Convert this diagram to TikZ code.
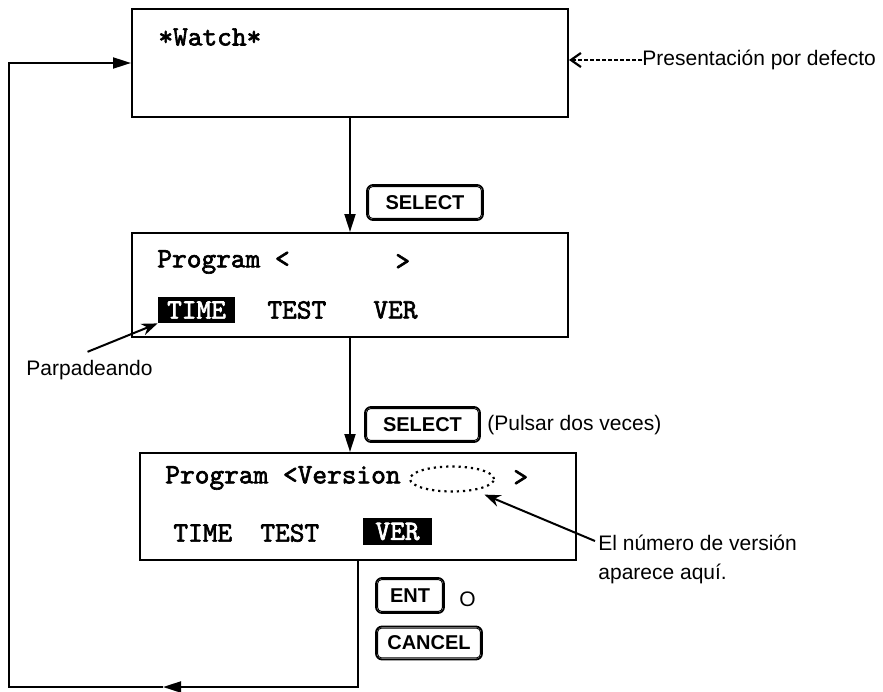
\documentclass[tikz,border=0pt]{standalone}
\usepackage{fontspec}
\setmainfont{Liberation Sans}
\newfontfamily\lcdfont{lmmono10-regular.otf}[FakeBold=2.2]
\usetikzlibrary{arrows.meta,shapes.geometric}
\begin{document}
\begin{tikzpicture}[x=0.5pt,y=-0.5pt,
  screen/.style={draw, line width=1pt, minimum width=218pt, inner sep=0pt},
  lcd/.style={font=\lcdfont\fontsize{14}{16}\selectfont, inner sep=0pt, anchor=west},
  hilite/.style={lcd, anchor=center, fill=black, text=white},
  keybox/.style={draw, line width=0.9pt, rounded corners=3pt, inner sep=0pt,
    font=\bfseries\fontsize{10}{11}\selectfont},
  keyinner/.style={draw, line width=0.45pt, rounded corners=2pt},
  lbl/.style={font=\fontsize{10.5}{14.5}\selectfont, inner sep=0pt},
  flow/.style={line width=1pt, -{Triangle[length=9pt,width=5.5pt]}},
  note/.style={line width=1pt, -{Stealth[length=8pt,width=6pt]}},
  dotnote/.style={line width=1.1pt, dash pattern=on 1.8pt off 1.2pt, -{Straight Barb[length=5pt,width=7pt]}}]

\useasboundingbox (0,0) rectangle (883,691);

% display screens
\node[screen, minimum height=54pt] (box1) at (350,63) {};
\node[screen, minimum height=52pt] (box2) at (350,285) {};
\node[screen, minimum height=53.5pt] (box3) at (358,506.5) {};

% screen 1
\node[lcd] (watch) at (158,37) {*Watch*};

% screen 2
\node[lcd] (prog2) at (157,262) {Program <};
\node[lcd] (close2) at (395,262) {>};
\node[hilite, minimum width=38.5pt, minimum height=13pt] (time2) at (196.5,310) {TIME};
\node[lcd] (test2) at (267,310) {TEST};
\node[lcd] (ver2) at (373,310) {VER};

% screen 3
\node[lcd] (prog3) at (165,478) {Program <Version};
\node[draw, dotted, line width=1.1pt, ellipse, minimum width=42pt, minimum height=12.5pt, inner sep=0pt] (slot) at (452,479) {};
\node[lcd] (close3) at (513,478) {>};
\node[lcd] (time3) at (173,533) {TIME};
\node[lcd] (test3) at (260,533) {TEST};
\node[hilite, minimum width=34.5pt, minimum height=13.5pt] (ver3) at (397.5,531.5) {VER};

% keys
\node[keybox, minimum width=58pt, minimum height=17.5pt] (sel1) at (425,202.5) {SELECT};
\node[keybox, minimum width=57.5pt, minimum height=17.5pt] (sel2) at (422.5,424.5) {SELECT};
\node[keybox, minimum width=34pt, minimum height=17.5pt] (ent) at (410,595.5) {ENT};
\node[keybox, minimum width=53pt, minimum height=16.5pt] (cancel) at (429,643) {CANCEL};
\foreach \k in {sel1,sel2,ent,cancel}
  \draw[keyinner] ([shift={(2.5,2.5)}]\k.north west) rectangle ([shift={(-2.5,-2.5)}]\k.south east);

% labels
\node[lbl, anchor=west] (pres) at (642,60) {Presentación por defecto};
\node[lbl, anchor=east] (blink) at (153,370) {Parpadeando};
\node[lbl, anchor=west] (twice) at (487,425) {(Pulsar dos veces)};
\node[lbl, anchor=west] (orkey) at (459,599) {O};
\node[lbl, anchor=north west, align=left] (vernote) at (598,535) {El número de versión\\aparece aquí.};

% flow between screens
\draw[flow] (box1.south) -- (box2.north);
\draw[flow] (box2.south) -- (box2.south |- box3.north);

% return path to the default screen
\coordinate (midpt) at (163,687);
\coordinate (loopsw) at (9,687);
\draw[flow] (box3.south) |- (midpt);
\draw[flow] (midpt) -- (loopsw) |- (box1.west);

% pointers
\draw[dotnote] (pres.west) -- (pres.west -| box1.east);
\draw[note] ([shift={(-2,-8)}]blink.north) -- (time2.south west);
\draw[note] ([shift={(-3,6)}]vernote.north west) -- ([shift={(2,6)}]slot.south east);
\end{tikzpicture}
\end{document}
